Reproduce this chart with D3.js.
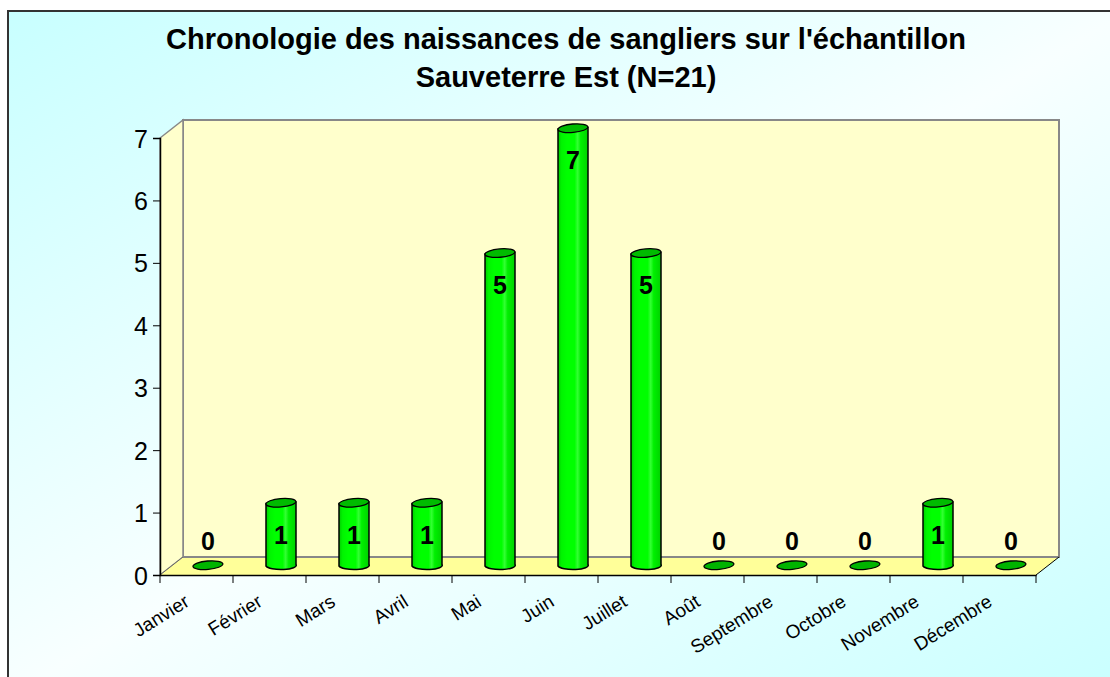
<!DOCTYPE html>
<html>
<head>
<meta charset="utf-8">
<script src="https://cdn.jsdelivr.net/npm/d3@7"></script>
<style>
	body{margin:0;padding:0;background:#fff;}
	svg{display:block;font-family:"Liberation Sans", Arial, sans-serif;}
</style>
</head>
<body>
<div class="container"></div>
<script>
//data
const titleLines = ["Chronologie des naissances de sangliers sur l'échantillon", "Sauveterre Est (N=21)"];
const months = ['Janvier','Février','Mars','Avril','Mai','Juin','Juillet','Août','Septembre','Octobre','Novembre','Décembre'];
const births = [0,1,1,1,5,7,5,0,0,0,1,0];
const yTicks = [0,1,2,3,4,5,6,7];

const W = 1110, H = 677;
const depth = {dx:23, dy:-18}; //offset of the back wall

const svg = d3.select('.container')
	.append('svg')
	.attr('width', W)
	.attr('height', H);

const defs = svg.append('defs');

//background: cyan -> white -> cyan along the diagonal
const bg = defs.append('linearGradient')
	.attr('id','bg')
	.attr('x1','0').attr('y1','0')
	.attr('x2','1').attr('y2','1');
bg.append('stop').attr('offset','0%').attr('stop-color','#c8ffff');
bg.append('stop').attr('offset','50%').attr('stop-color','#f8ffff');
bg.append('stop').attr('offset','100%').attr('stop-color','#c8ffff');

//cylinder shading
const cyl = defs.append('linearGradient')
	.attr('id','cyl')
	.attr('x1','0').attr('y1','0')
	.attr('x2','1').attr('y2','0');
[['0%','#00cc00'],['12%','#00f400'],['30%','#00ff00'],['55%','#00ff00'],['65%','#33ff33'],['75%','#00f000'],['100%','#00d000']]
	.forEach(function(s){
		cyl.append('stop').attr('offset', s[0]).attr('stop-color', s[1]);
	});

svg.append('rect')
	.attr('x', 8).attr('y', 11)
	.attr('width', W + 10).attr('height', H + 10)
	.style('fill','url(#bg)')
	.style('stroke','#333')
	.style('stroke-width', 2);

//title
svg.append('g')
	.selectAll('text')
	.data(titleLines)
	.enter()
	.append('text')
	.attr('x', 566)
	.attr('y', function(d,i){ return 49 + i*38 })
	.attr('text-anchor','middle')
	.style('font-size','29px')
	.style('font-weight','bold')
	.text(function(d){ return d });

//scales
const x = d3.scaleBand()
	.domain(months)
	.range([160, 1036]);
const y = d3.scaleLinear()
	.domain([0, 7])
	.range([575, 138]);

const x0 = x.range()[0], x1 = x.range()[1];
const yTop = y(7), yBase = y(0);

//walls and floor
const plot = svg.append('g').attr('class','plot');

plot.append('rect')
	.attr('x', x0 + depth.dx)
	.attr('y', yTop + depth.dy)
	.attr('width', x1 - x0)
	.attr('height', yBase - yTop)
	.style('fill','#ffffcc')
	.style('stroke','#888')
	.style('stroke-width', 2);

plot.append('polygon')
	.attr('points', [[x0,yBase],[x0,yTop],[x0+depth.dx,yTop+depth.dy],[x0+depth.dx,yBase+depth.dy]].join(' '))
	.style('fill','#ffffcc')
	.style('stroke','#888')
	.style('stroke-width', 1.5);

plot.append('polygon')
	.attr('points', [[x0,yBase],[x1,yBase],[x1+depth.dx,yBase+depth.dy],[x0+depth.dx,yBase+depth.dy]].join(' '))
	.style('fill','#ffff99')
	.style('stroke','none');
plot.append('line')
	.attr('x1', x0+depth.dx).attr('x2', x1+depth.dx)
	.attr('y1', yBase+depth.dy).attr('y2', yBase+depth.dy)
	.style('stroke','#888').style('stroke-width', 2);
plot.append('line')
	.attr('x1', x0).attr('x2', x0+depth.dx)
	.attr('y1', yBase).attr('y2', yBase+depth.dy)
	.style('stroke','#666').style('stroke-width', 1);
plot.append('line')
	.attr('x1', x1).attr('x2', x1+depth.dx)
	.attr('y1', yBase).attr('y2', yBase+depth.dy)
	.style('stroke','#000').style('stroke-width', 1);

//axes
const yAxis = d3.axisLeft(y)
	.tickValues(yTicks)
	.tickSize(7)
	.tickPadding(5)
	.tickFormat(d3.format('d'));
const gy = svg.append('g')
	.attr('transform', `translate(${x0}, 0)`)
	.call(yAxis);
gy.select('.domain').attr('stroke','#000').attr('stroke-width', 1.5);
gy.selectAll('text')
	.style('font-size','25px')
	.style('font-family','"Liberation Sans", Arial, sans-serif')
	.attr('dy','0.36em');

const xAxis = d3.axisBottom(x).tickSize(0).tickFormat('');
const gx = svg.append('g')
	.attr('transform', `translate(0, ${yBase})`)
	.call(xAxis);
gx.select('.domain').attr('stroke','#000').attr('stroke-width', 1.5);

//tick marks on band edges
svg.append('g')
	.selectAll('line')
	.data(months.concat(['end']))
	.enter()
	.append('line')
	.attr('x1', function(d){ return d==='end' ? x1 : x(d) })
	.attr('x2', function(d){ return d==='end' ? x1 : x(d) })
	.attr('y1', yBase)
	.attr('y2', yBase + 8)
	.style('stroke','#000');

//month labels
svg.append('g')
	.selectAll('text')
	.data(months)
	.enter()
	.append('text')
	.attr('transform', function(d){
		return `translate(${x(d) + x.bandwidth()/2 - 6}, ${yBase + 30}) rotate(-32)`;
	})
	.attr('text-anchor','end')
	.style('font-size','19px')
	.text(function(d){ return d });

//cylinders, placed at half depth
const bw = 30, ry = 4.2;
const off = {dx: depth.dx/2, dy: depth.dy/2};
const bars = months.map(function(m, i){
	return {month: m, value: births[i]};
});

const nodes = svg.append('g')
	.selectAll('.bar')
	.data(bars)
	.enter()
	.append('g')
	.attr('class','bar')
	.attr('transform', function(d){
		return `translate(${x(d.month) + x.bandwidth()/2 + off.dx}, ${off.dy})`;
	});

nodes.filter(function(d){ return d.value > 0 })
	.append('path')
	.attr('d', function(d){
		const t = y(d.value), b = yBase;
		return `M${-bw/2},${t} L${-bw/2},${b} A${bw/2},${ry} 0 0 0 ${bw/2},${b-1.5} L${bw/2},${t-1.5} Z`;
	})
	.style('fill','url(#cyl)')
	.style('stroke','#000')
	.style('stroke-width', 1.5);

nodes.append('ellipse')
	.attr('cx', 0)
	.attr('cy', function(d){ return y(d.value) - 0.8 })
	.attr('rx', bw/2)
	.attr('ry', ry)
	.attr('transform', function(d){ return `rotate(-5, 0, ${y(d.value)})` })
	.style('fill', function(d){ return d.value > 0 ? '#00bb00' : '#00b400' })
	.style('stroke','#000')
	.style('stroke-width', 1.3);

//value labels
nodes.append('text')
	.attr('x', 0)
	.attr('y', function(d){
		return d.value > 0 ? y(d.value) + 40 : yBase - 16;
	})
	.attr('text-anchor','middle')
	.style('font-size','25px')
	.style('font-weight','bold')
	.text(function(d){ return d.value });
</script>
</body>
</html>
